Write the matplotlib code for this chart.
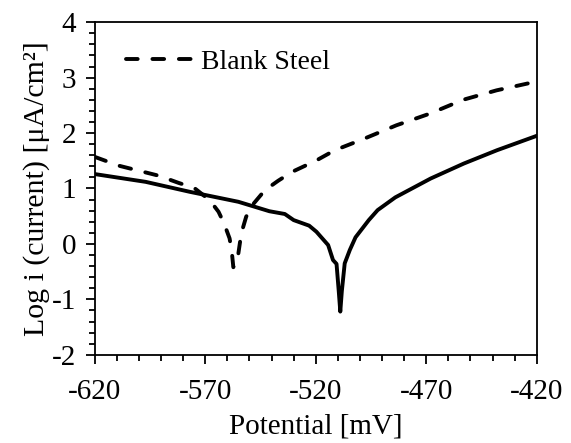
import matplotlib
matplotlib.use('Agg')
from matplotlib import pyplot as plt
from matplotlib.ticker import MultipleLocator

# blank steel (dashed)
blank_x = [-620, -609, -600, -591, -582, -575, -568, -564, -561.5, -559, -558, -557.3, -556.3,
           -555.2, -553.7, -551.5, -548.7, -543, -537, -530.7, -520, -511.4, -498.6, -483.5,
           -468.4, -453.3, -438.2, -420]
blank_y = [1.57, 1.41, 1.32, 1.23, 1.10, 1.01, 0.79, 0.58, 0.37, 0.10, -0.14, -0.42, -0.36,
           -0.22, 0.19, 0.49, 0.70, 0.97, 1.14, 1.30, 1.50, 1.69, 1.89, 2.14,
           2.35, 2.60, 2.77, 2.93]

# inhibited steel (solid)
inh_x = [-620, -597, -577, -555, -541, -534, -530, -523, -519.7, -514.4, -512.2, -510.6, -509.6,
         -508.9, -508.2, -506.9, -504.6, -502, -496, -492, -484, -468, -453, -438, -420]
inh_y = [1.26, 1.12, 0.94, 0.76, 0.59, 0.54, 0.43, 0.33, 0.22, -0.02, -0.29, -0.36, -0.85,
         -1.22, -0.85, -0.35, -0.11, 0.12, 0.43, 0.61, 0.84, 1.18, 1.45, 1.69, 1.95]

x_ticks = [-620, -570, -520, -470, -420]
y_ticks = [-2, -1, 0, 1, 2, 3, 4]

plt.rcParams['font.family'] = ['Liberation Serif', 'DejaVu Serif']
plt.rcParams['axes.unicode_minus'] = False

fig, ax = plt.subplots(figsize=(5.71, 4.43), dpi=100)
fig.subplots_adjust(left=0.166, right=0.940, bottom=0.199, top=0.950)

ax.plot(blank_x, blank_y, color='black', lw=2.8, linestyle=(0, (3.0, 3.8)),
        dash_capstyle='round', label='Blank Steel')
ax.plot(inh_x, inh_y, color='black', lw=2.8, solid_joinstyle='round')

ax.set_xlim(-620, -420)
ax.set_ylim(-2, 4)
ax.set_xticks(x_ticks)
ax.set_yticks(y_ticks)
ax.xaxis.set_minor_locator(MultipleLocator(10))
ax.yaxis.set_minor_locator(MultipleLocator(0.2))
ax.tick_params(which='major', direction='out', length=6.5, width=1.3, labelsize=21)
ax.tick_params(axis='x', which='major', pad=11)
ax.tick_params(axis='y', which='major', pad=7)
ax.tick_params(which='minor', direction='out', length=4.5, width=1.3)
for sp in ax.spines.values():
    sp.set_linewidth(1.3)

ax.set_xlabel('Potential [mV]', fontsize=21, labelpad=6)
ax.set_ylabel('Log i (current) [μA/cm²]', fontsize=21.5, labelpad=1)

ax.legend(loc='upper left', frameon=False, fontsize=20, handlelength=2.5, handletextpad=0.2,
          bbox_to_anchor=(0.07, 0.917), borderaxespad=0, borderpad=0)

fig.savefig('out.png', dpi=100)
